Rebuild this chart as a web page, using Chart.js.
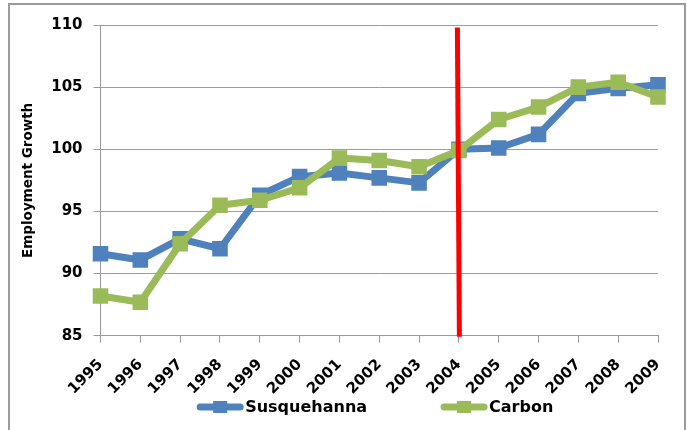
<!DOCTYPE html>
<html>
<head>
<meta charset="utf-8">
<script src="https://cdn.jsdelivr.net/npm/chart.js@4.4.1/dist/chart.umd.min.js"></script>
<style>
  body { margin: 0; background: #fff; }
  #frame { position: absolute; left: 8px; top: 3px; width: 674px; height: 440px; border: 2px solid #9a9a9a; }
  #wrap { position: absolute; left: 0; top: 0; width: 687px; height: 430px; }
</style>
</head>
<body>
<div id="frame"></div>
<div id="wrap"><canvas id="chart" width="687" height="430"></canvas></div>
<script>
var years = ['1995', '1996', '1997', '1998', '1999', '2000', '2001', '2002', '2003', '2004', '2005', '2006', '2007', '2008', '2009'];
var susquehanna = [91.6, 91.1, 92.8, 92.0, 96.3, 97.8, 98.1, 97.7, 97.3, 100.0, 100.1, 101.2, 104.5, 104.9, 105.2];
var carbon = [88.2, 87.7, 92.4, 95.5, 95.9, 96.9, 99.3, 99.1, 98.6, 99.9, 102.4, 103.4, 105.0, 105.4, 104.2];
var yTicks = [85, 90, 95, 100, 105, 110];
var markerYear = '2004';

var BLUE = '#4F81BD';
var GREEN = '#9BBB59';

Chart.defaults.font.family = "'DejaVu Sans', sans-serif";
Chart.defaults.color = '#000';

/* ======= red marker line at the chosen year ======= */
var markerLine = {
    id: 'markerLine',
    afterDatasetsDraw: function (chart) {
        var x = chart.scales.x.getPixelForValue(years.indexOf(markerYear));
        var y = chart.scales.y;
        var ctx = chart.ctx;
        ctx.save();
        ctx.strokeStyle = '#FF0000';
        ctx.lineWidth = 5;
        ctx.beginPath();
        ctx.moveTo(x - 1.5, y.getPixelForValue(109.8));
        ctx.lineTo(x + 0.5, y.bottom + 1);
        ctx.stroke();
        ctx.restore();
    }
};

/* ======= excel-style legend: line with square marker ======= */
var lineLegend = {
    id: 'lineLegend',
    afterDraw: function (chart) {
        var ctx = chart.ctx;
        var items = [chart.data.datasets[0], chart.data.datasets[1]];
        var keyW = 46, gapText = 2, gapItems = 74;
        ctx.save();
        ctx.font = 'bold 16px "DejaVu Sans"';
        ctx.textBaseline = 'middle';
        var total = 0;
        items.forEach(function (d, i) {
            total += keyW + gapText + ctx.measureText(d.label).width;
            if (i > 0) total += gapItems;
        });
        var x = (chart.chartArea.left + chart.chartArea.right) / 2 - 4 - total / 2;
        var y = 407;
        items.forEach(function (d) {
            ctx.strokeStyle = d.borderColor;
            ctx.lineWidth = 7;
            ctx.lineCap = 'round';
            ctx.beginPath();
            ctx.moveTo(x + 3, y);
            ctx.lineTo(x + keyW - 3, y);
            ctx.stroke();
            ctx.fillStyle = d.borderColor;
            ctx.fillRect(x + keyW / 2 - 7, y - 6, 14, 12);
            ctx.fillStyle = '#000';
            ctx.fillText(d.label, x + keyW + gapText, y + 1);
            x += keyW + gapText + ctx.measureText(d.label).width + gapItems;
        });
        ctx.restore();
    }
};

var ctx = document.getElementById('chart');

var chart = new Chart(ctx, {
    type: 'line',
    data: {
        labels: years,
        datasets: [{
            label: 'Susquehanna',
            data: susquehanna,
            borderColor: BLUE,
            backgroundColor: BLUE,
            borderWidth: 7,
            pointStyle: 'rect',
            pointRadius: 11,
            pointBorderWidth: 0,
            borderJoinStyle: 'round',
            order: 1
        }, {
            label: 'Carbon',
            data: carbon,
            borderColor: GREEN,
            backgroundColor: GREEN,
            borderWidth: 7,
            pointStyle: 'rect',
            pointRadius: 11,
            pointBorderWidth: 0,
            borderJoinStyle: 'round',
            order: 0
        }]
    },
    options: {
        responsive: false,
        animation: false,
        layout: { padding: { left: 7, top: 25, right: 29, bottom: 19 } },
        plugins: {
            legend: { display: false },
            tooltip: { enabled: false }
        },
        scales: {
            x: {
                offset: false,
                grid: { drawOnChartArea: false, drawTicks: true, tickLength: 7, tickColor: '#999', offset: false },
                border: { color: '#999', width: 1 },
                ticks: {
                    font: { size: 15, weight: 'bold' },
                    maxRotation: 45, minRotation: 45,
                    padding: 13,
                    autoSkip: false
                }
            },
            y: {
                min: 85,
                max: 110,
                afterBuildTicks: function (axis) {
                    axis.ticks = yTicks.map(function (v) { return { value: v }; });
                },
                grid: { color: '#7FA3D1', lineWidth: 1, tickLength: 7, tickColor: '#999' },
                border: { color: '#999', width: 1 },
                ticks: { font: { size: 15, weight: 'bold' }, padding: 11 },
                title: {
                    display: true,
                    text: 'Employment Growth',
                    font: { size: 13.5, weight: 'bold' },
                    padding: { top: 13, bottom: 4 }
                }
            }
        }
    },
    plugins: [markerLine, lineLegend]
});
</script>
</body>
</html>
